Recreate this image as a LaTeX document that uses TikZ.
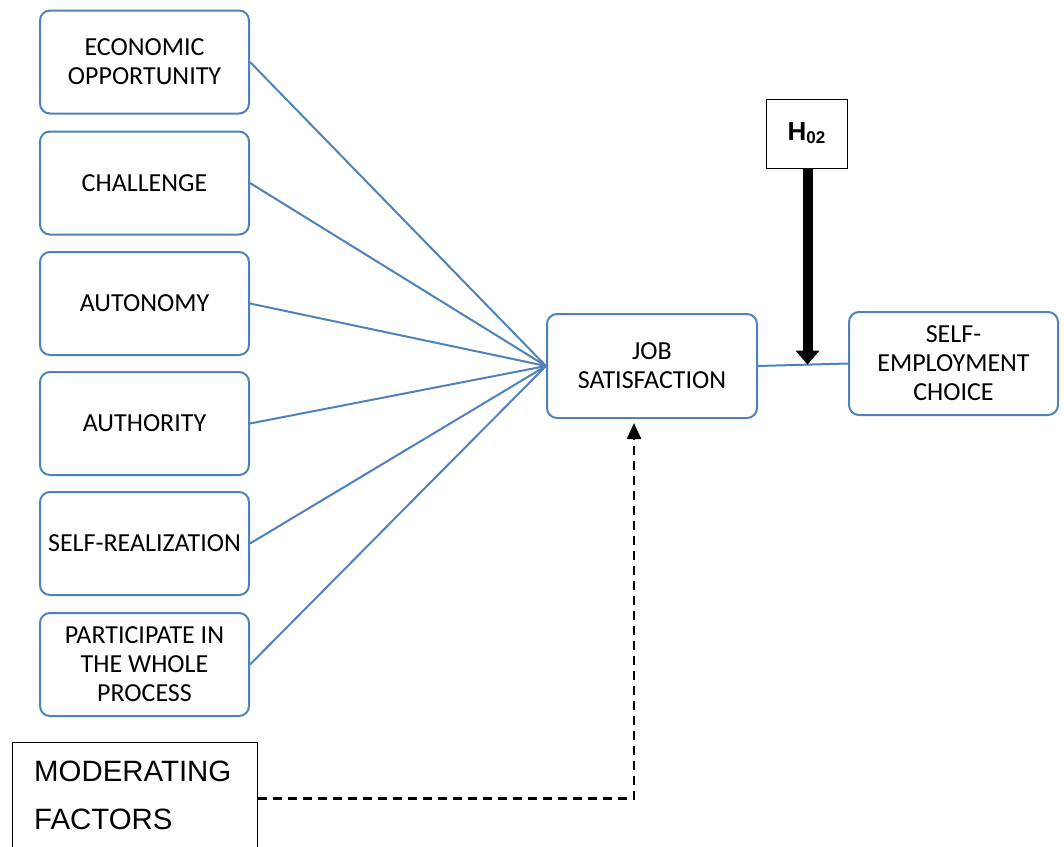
\documentclass[tikz,border=0pt]{standalone}
\usepackage{fontspec}
\setmainfont{Carlito}
\newfontfamily\arialf{Liberation Sans}
\usetikzlibrary{arrows.meta,calc}
\definecolor{wblue}{RGB}{79,129,189}
\tikzset{
  fbox/.style={draw=wblue, line width=2pt, rounded corners=10pt, minimum width=209pt, minimum height=103pt, align=center, inner sep=0pt, font=\fontsize{26}{29}\selectfont},
  link/.style={draw=wblue, line width=2pt},
}
\begin{document}
\begin{tikzpicture}[x=1pt,y=-1pt]
\useasboundingbox (0,0) rectangle (1064,846);
\node[fbox] (b1) at (144.5,62) {ECONOMIC\\OPPORTUNITY};
\node[fbox] (b2) at (144.5,183) {CHALLENGE};
\node[fbox] (b3) at (144.5,303.5) {AUTONOMY};
\node[fbox] (b4) at (144.5,423.5) {AUTHORITY};
\node[fbox] (b5) at (144.5,543.5) {SELF-REALIZATION};
\node[fbox] (b6) at (144.5,664.5) {PARTICIPATE IN\\THE WHOLE\\PROCESS};
\node[fbox, minimum width=210pt, minimum height=104pt] (job) at (652,366) {JOB\\SATISFACTION};
\node[fbox] (self) at (953.5,363.5) {SELF-\\EMPLOYMENT\\CHOICE};
\node[draw=black, line width=1pt, minimum width=81pt, minimum height=69pt, inner sep=0pt, font=\arialf\bfseries\fontsize{26}{30}\selectfont] (h) at (806.5,133.5) {H\raisebox{-3pt}{\fontsize{17}{20}\selectfont 02}};
\node[draw=black, line width=1pt, minimum width=245pt, minimum height=112pt, anchor=north west, inner sep=0pt] (mod) at (12,742) {};
\node[anchor=west, align=left, font=\arialf\fontsize{29.4}{48}\selectfont, inner sep=0pt] (modt) at (34,795) {MODERATING\\FACTORS};
\foreach \i in {1,...,6} { \draw[link] (b\i.east) -- (job.west); }
\draw[link] (job.east) -- coordinate[pos=0.55] (mid) (self.west);
\draw[line width=10pt, -{Triangle[width=23pt,length=14pt]}] (mid |- h.south) -- (mid);
\coordinate (dtip) at ($(job.south)+(-18,4)$);
\draw[line width=2.3pt, dash pattern=on 9pt off 6pt, -{Triangle[width=14pt,length=16pt]}] (mod.east) -| (dtip);
\end{tikzpicture}
\end{document}
